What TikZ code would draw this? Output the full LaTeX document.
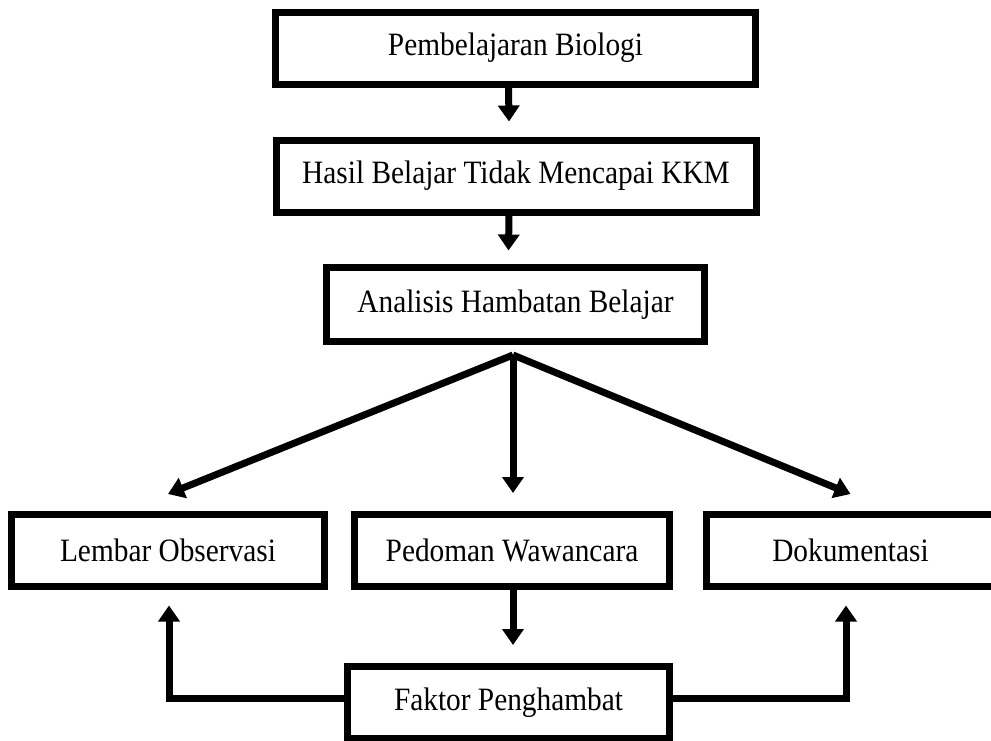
\documentclass[tikz,border=0pt]{standalone}
\usepackage{fontspec}
\newfontfamily\tnr[FakeStretch=0.9]{Liberation Serif}
\usetikzlibrary{arrows.meta}
\tikzstyle{kotak}=[draw,line width=3.5pt,minimum height=36pt,inner sep=0pt,font=\tnr\fontsize{16.3}{19}\selectfont]
\tikzstyle{panah}=[line width=3.5pt,-{Triangle[width=10.5pt,length=8pt]}]

\begin{document}
\begin{tikzpicture}[x=0.5pt,y=-0.5pt]
    \useasboundingbox (0,0) rectangle (991,740);
    \node[kotak,minimum width=240pt] (pb) at (515.5,48)  {Pembelajaran Biologi};
    \node[kotak,minimum width=240pt] (hb) at (516,176)   {Hasil Belajar Tidak Mencapai KKM};
    \node[kotak,minimum width=189pt,minimum height=37pt] (ah) at (515.5,304.5) {Analisis Hambatan Belajar};
    \node[kotak,minimum width=156.5pt] (lo) at (168,550.5) {Lembar Observasi};
    \node[kotak,minimum width=157.5pt] (pw) at (512,550.5) {Pedoman Wawancara};
    \node[kotak,minimum width=144pt]   (dk) at (850.5,550.5) {Dokumentasi};
    \node[kotak,minimum width=161pt]   (fp) at (508.5,702.5) {Faktor Penghambat};
    \coordinate (br) at ([xshift=-1.25pt,yshift=-5pt]ah.south);

    \draw[panah] ([xshift=-3.5pt]pb.south) -- ([xshift=-3.5pt,yshift=7.5pt]hb.north);
    \draw[panah] ([xshift=-3.5pt]hb.south) -- ([xshift=-3.5pt,yshift=6.75pt]ah.north);
    \draw[panah] (br) -- ([yshift=8.5pt]lo.north);
    \draw[panah] (br) -- ([xshift=0.5pt,yshift=9pt]pw.north);
    \draw[panah] (br) -- ([yshift=8.5pt]dk.north);
    \draw[panah] ([xshift=0.5pt]pw.south) -- ([xshift=2.25pt,yshift=9pt]fp.north);
    \draw[panah] ([yshift=2.25pt]fp.west) -| ([xshift=0.5pt,yshift=-7.75pt]lo.south);
    \draw[panah] ([yshift=2.25pt]fp.east) -| ([xshift=-2.25pt,yshift=-7.75pt]dk.south);
\end{tikzpicture}
\end{document}
